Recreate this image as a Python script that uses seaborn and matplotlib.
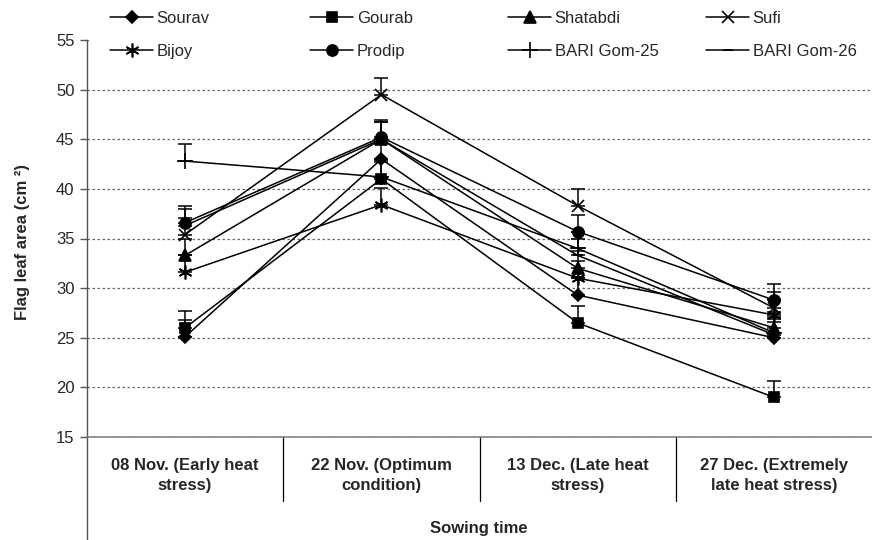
import pandas as pd
import matplotlib.pyplot as plt
import seaborn as sns
from matplotlib.lines import Line2D
from matplotlib.patches import Rectangle

# Sowing time categories
sowing = ['08 Nov. (Early heat\nstress)', '22 Nov. (Optimum\ncondition)',
          '13 Dec. (Late heat\nstress)', '27 Dec. (Extremely\nlate heat stress)']

# Flag leaf area (cm2)
sourav = [25.1, 43.0, 29.3, 25.0]
gourab = [26.0, 41.0, 26.5, 19.0]
shatabdi = [33.3, 45.0, 32.0, 26.0]
sufi = [35.4, 49.5, 38.3, 28.0]
bijoy = [31.6, 38.4, 31.0, 27.3]
prodip = [36.6, 45.2, 35.7, 28.8]
bari25 = [42.8, 41.2, 34.0, 25.5]
bari26 = [36.3, 45.0, 33.3, 25.3]
err_up = [1.7, 1.7, 1.7, 1.6]

varieties = ['Sourav', 'Gourab', 'Shatabdi', 'Sufi', 'Bijoy', 'Prodip',
             'BARI Gom-25', 'BARI Gom-26']
series = [sourav, gourab, shatabdi, sufi, bijoy, prodip, bari25, bari26]

rows = []
for name, vals in zip(varieties, series):
    for i, v in enumerate(vals):
        rows.append({'pos': i, 'variety': name, 'area': v})
df = pd.DataFrame(rows)

markers = {'Sourav': 'D', 'Gourab': 's', 'Shatabdi': '^', 'Sufi': 'x',
           'Bijoy': (6, 2, 0), 'Prodip': 'o', 'BARI Gom-25': '+',
           'BARI Gom-26': '_'}
msizes = {'Sourav': 6, 'Gourab': 7, 'Shatabdi': 8, 'Sufi': 8,
          'Bijoy': 10, 'Prodip': 8, 'BARI Gom-25': 11, 'BARI Gom-26': 7}

sns.set_style('white')
plt.rcParams['font.family'] = ['Liberation Sans', 'DejaVu Sans']

fig = plt.figure(figsize=(8.72, 5.4), dpi=100)
ax = fig.add_axes([87 / 872, (540 - 437) / 540, 785 / 872, 397 / 540])

sns.lineplot(data=df, x='pos', y='area', style='variety', style_order=varieties,
             markers=False, dashes=False, color='black', linewidth=1.1,
             legend=False, ax=ax)
for line, name in zip(ax.lines, varieties):
    line.set_marker(markers[name])
    line.set_markersize(msizes[name])
    line.set_markerfacecolor('black')
    line.set_markeredgecolor('black')
    line.set_markeredgewidth(1.2)

for vals in series:
    ax.errorbar(range(4), vals, yerr=[[0] * 4, err_up], fmt='none',
                ecolor='black', elinewidth=1.1, capsize=5, capthick=1.1)

ax.set_xlim(-0.5, 3.5)
ax.set_ylim(15, 55)
ax.set_yticks(range(15, 60, 5))
ax.set_xticks(range(4))
ax.set_xticklabels(sowing, fontweight='bold', fontsize=12, linespacing=1.45)
ax.tick_params(axis='x', length=0, pad=15)
ax.tick_params(axis='y', length=5, width=1, color='#555555', labelsize=12,
               direction='out', left=True, pad=4)
ax.set_xlabel('')
ax.set_ylabel('')
ax.yaxis.grid(True, linestyle=(0, (2, 2)), color='#666666', linewidth=0.9)
ax.xaxis.grid(False)
for s in ['top', 'right']:
    ax.spines[s].set_visible(False)
ax.spines['bottom'].set_color('#808080')
ax.spines['bottom'].set_linewidth(1.2)
ax.spines['left'].set_color('#555555')
ax.spines['left'].set_linewidth(1.0)
ax.spines['left'].set_bounds(15, 55)

# category separators and extended y axis line
trans = ax.get_xaxis_transform()
for xs in [0.5, 1.5, 2.5]:
    ax.plot([xs, xs], [0, -64 / 397], color='black', lw=0.9,
            transform=trans, clip_on=False)
ax.plot([-0.5, -0.5], [0, -110 / 397], color='#555555', lw=1.0,
        transform=trans, clip_on=False)

fig.text(22 / 872, 1 - 242 / 540, 'Flag leaf area (cm ²)', rotation=90,
         ha='center', va='center', fontweight='bold', fontsize=12)
fig.text(479 / 872, (540 - 528) / 540, 'Sowing time', ha='center',
         va='center', fontweight='bold', fontsize=12)

# white strip behind the legend
fig.patches.append(Rectangle((89 / 872, 1 - 60 / 540), 1, 60 / 540,
                             transform=fig.transFigure, facecolor='white',
                             edgecolor='none', zorder=3))

handles = [Line2D([], [], color='black', lw=1.1, marker=markers[n],
                  markersize=msizes[n], markerfacecolor='black',
                  markeredgecolor='black', markeredgewidth=1.2)
           for n in varieties]
col_x = [110, 310, 508, 706]
for c in range(4):
    idx = [c, c + 4]
    leg = fig.legend([handles[i] for i in idx], [varieties[i] for i in idx],
                     loc='upper left', bbox_to_anchor=(col_x[c] / 872, 1 - 11 / 540),
                     frameon=False, fontsize=12, handlelength=2.6,
                     handletextpad=0.2, labelspacing=1.1, borderpad=0,
                     borderaxespad=0)
    leg.set_zorder(4)

plt.savefig('out.png', dpi=100)
plt.close()
